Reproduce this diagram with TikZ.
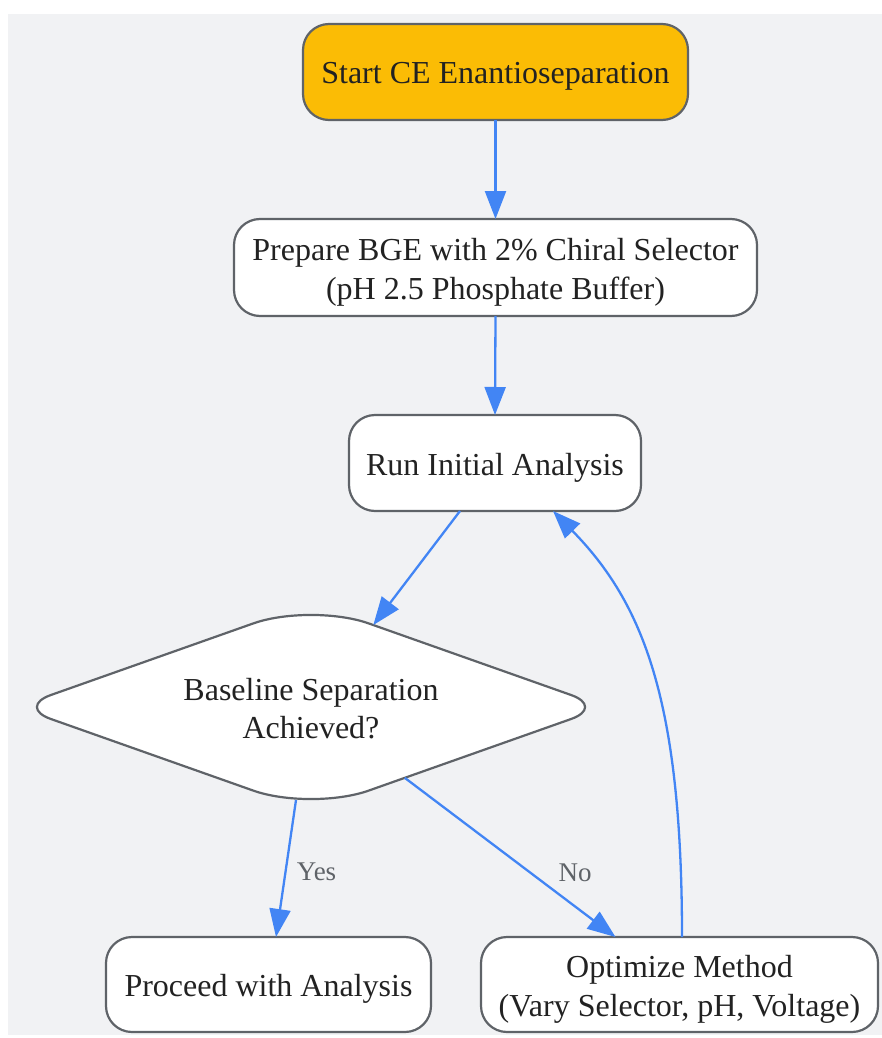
\documentclass[tikz,border=0pt]{standalone}
\usepackage{fontspec}
\setmainfont{Liberation Serif}
\usetikzlibrary{arrows.meta,shapes.geometric,calc}
\definecolor{bg}{HTML}{F1F2F4}
\definecolor{bordr}{HTML}{5F6368}
\definecolor{edgeblue}{HTML}{4285F4}
\definecolor{startfill}{HTML}{FBBC05}
\definecolor{txt}{HTML}{222222}
\definecolor{lbl}{HTML}{5F6368}
\begin{document}
\begin{tikzpicture}[x=1pt,y=-1pt,
  box/.style={draw=bordr,line width=2.2pt,fill=white,rounded corners=26pt,inner sep=0pt,outer sep=0pt},
  boxtext/.style={align=center,text=txt,font=\fontsize{32}{39}\selectfont,inner sep=0pt},
  flow/.style={draw=edgeblue,line width=2.3pt,-{Triangle[length=28pt,width=21pt]}},
  lab/.style={text=lbl,font=\fontsize{27}{32}\selectfont}]
\useasboundingbox (0,0) rectangle (882,1038);
\fill[bg] (8,14) rectangle (882,1035);

\node[box,fill=startfill,minimum width=385pt,minimum height=96pt] (start) at (495.5,72) {};
\node[boxtext] (startt) at ([yshift=-4.5pt]start.center) {Start CE Enantioseparation};
\node[box,minimum width=523pt,minimum height=97pt] (prep) at (495.5,267.5) {};
\node[boxtext] (prept) at ([yshift=-4.5pt]prep.center) {Prepare BGE with 2\% Chiral Selector\\(pH 2.5 Phosphate Buffer)};
\node[box,minimum width=292pt,minimum height=96pt] (run) at (495,463) {};
\node[boxtext] (runt) at ([yshift=-4.5pt]run.center) {Run Initial Analysis};
\node[box,minimum width=325pt,minimum height=95pt] (proc) at (268.5,984.5) {};
\node[boxtext] (proct) at ([yshift=-4.5pt]proc.center) {Proceed with Analysis};
\node[box,minimum width=397pt,minimum height=95pt] (opt) at (679.5,984.5) {};
\node[boxtext] (optt) at ([yshift=-4.5pt]opt.center) {Optimize Method\\(Vary Selector, pH, Voltage)};

\node[shape=diamond,minimum width=588pt,minimum height=208pt,inner sep=0pt,outer sep=0pt] (dia) at (311,707) {};
\draw[draw=bordr,line width=2.2pt,fill=white]
  ($(dia.north)!0.196!(dia.east)$)
  -- ($(dia.east)!0.115!(dia.north)$) .. controls ($(dia.east)!0.052!(dia.north)$) and ($(dia.east)!0.052!(dia.south)$) .. ($(dia.east)!0.115!(dia.south)$)
  -- ($(dia.south)!0.196!(dia.east)$) .. controls ($(dia.south)!0.088!(dia.east)$) and ($(dia.south)!0.088!(dia.west)$) .. ($(dia.south)!0.196!(dia.west)$)
  -- ($(dia.west)!0.115!(dia.south)$) .. controls ($(dia.west)!0.052!(dia.south)$) and ($(dia.west)!0.052!(dia.north)$) .. ($(dia.west)!0.115!(dia.north)$)
  -- ($(dia.north)!0.196!(dia.west)$) .. controls ($(dia.north)!0.088!(dia.west)$) and ($(dia.north)!0.088!(dia.east)$) .. ($(dia.north)!0.196!(dia.east)$)
  -- cycle;
\node[boxtext,font=\fontsize{32}{38}\selectfont] (diatext) at ([yshift=-2pt]dia.center) {Baseline Separation\\Achieved?};

\draw[flow] (start.south) -- (prep.north);
\draw[flow] (prep.south) -- (run.north);
\draw[flow] ([xshift=-35pt]run.south) -- (dia);
\draw[flow] ([xshift=-15pt,yshift=11pt]dia.south) -- ([xshift=7.5pt]proc.north)
  node[lab,pos=0.52,xshift=31pt,yshift=-1pt] {Yes};
\draw[flow] (dia) -- ([xshift=-64pt]opt.north)
  node[lab,pos=0.59,xshift=46pt,yshift=-1pt] {No};
\draw[flow] ([xshift=2.5pt]opt.north) .. controls (682,700) and (643,603) .. ([xshift=58pt]run.south);
\end{tikzpicture}
\end{document}
